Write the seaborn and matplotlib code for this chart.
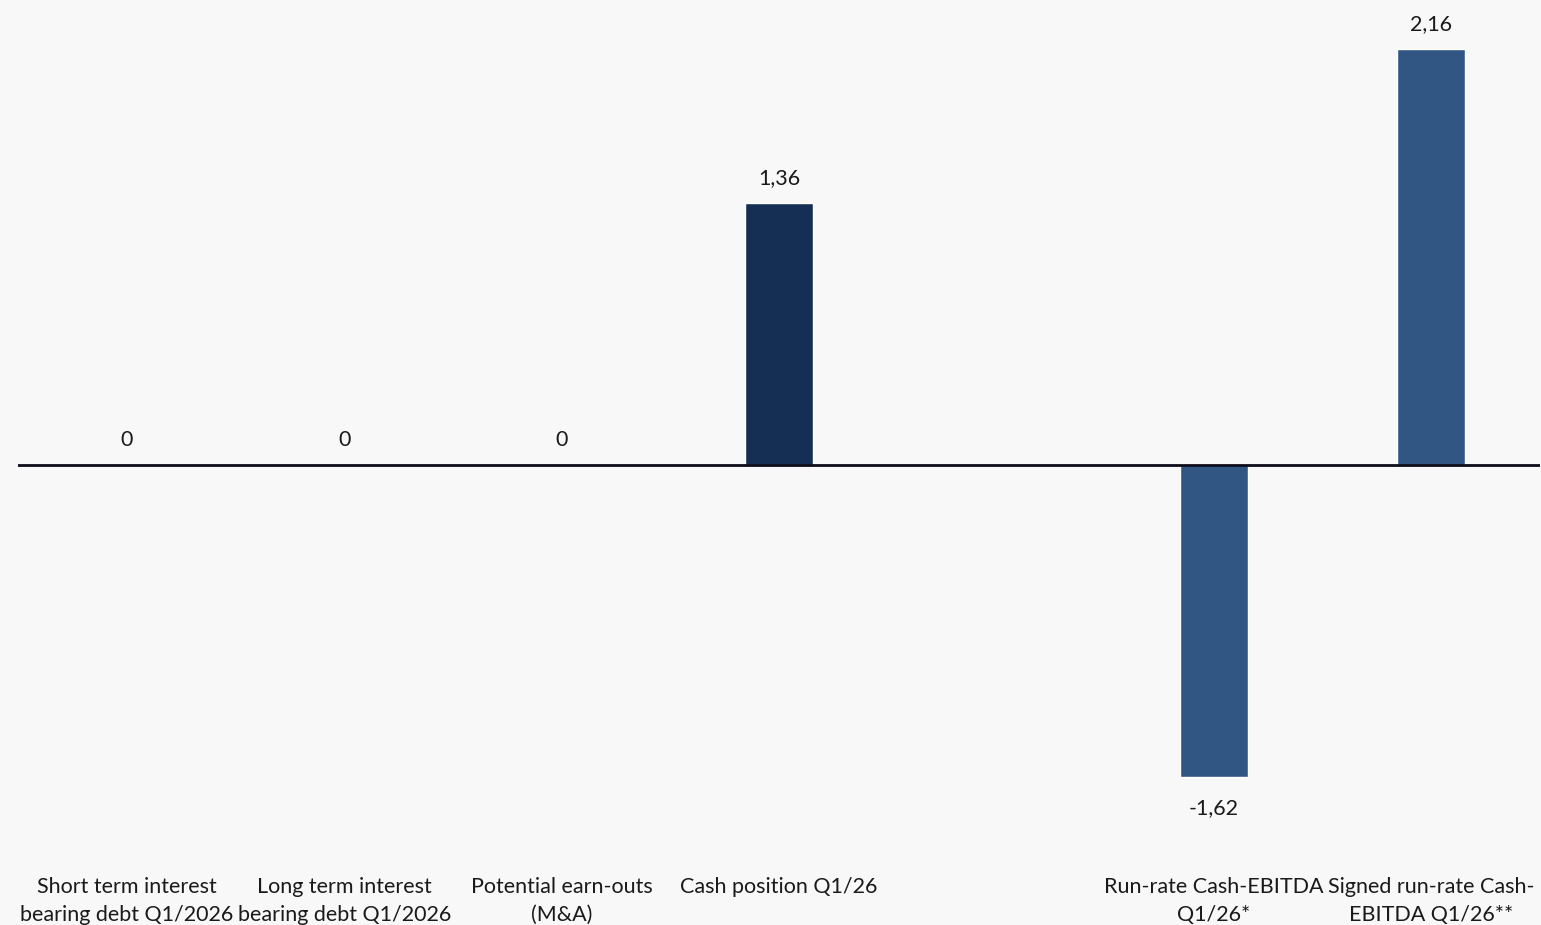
import matplotlib
matplotlib.use("Agg")
import matplotlib.pyplot as plt
import seaborn as sns
import pandas as pd
import numpy as np

categories = [
    "Short term interest\nbearing debt Q1/2026",
    "Long term interest\nbearing debt Q1/2026",
    "Potential earn-outs\n(M&A)",
    "Cash position Q1/26",
    " ",
    "Run-rate Cash-EBITDA\nQ1/26*",
    "Signed run-rate Cash-\nEBITDA Q1/26**",
]
values = [0, 0, 0, 1.36, np.nan, -1.62, 2.16]
bar_colors = ["#325684", "#325684", "#325684", "#142e54", "#325684", "#325684", "#325684"]

df = pd.DataFrame({"category": categories, "value": values})
palette = dict(zip(categories, bar_colors))

sns.set_style("white")
plt.rcParams["font.family"] = ["Lato", "DejaVu Sans"]

bg = "#f8f8f8"
fig = plt.figure(figsize=(15.41, 9.25), dpi=100, facecolor=bg)
ax = fig.add_axes([18 / 1541, 57 / 925, 1522 / 1541, 868 / 925])
ax.set_facecolor(bg)

sns.barplot(data=df, x="category", y="value", hue="category", palette=palette,
            order=categories, width=0.313, legend=False, saturation=1, ax=ax)

ax.set_ylim(-2.092, 2.414)
ax.set_xlim(-0.5, len(categories) - 0.5)
ax.axhline(0, color="#0d0d1a", lw=2, zorder=3)

for i, v in enumerate(values):
    if np.isnan(v):
        continue
    txt = f"{v:.2f}".replace(".", ",") if v != 0 else "0"
    off = 18 if v >= 0 else -22
    ax.annotate(txt, (i, v), xytext=(0, off), textcoords="offset points",
                ha="center", va="center", fontsize=15.5, color="#1a1a1a")

ax.set_xlabel("")
ax.set_ylabel("")
ax.set_yticks([])
ax.set_xticks(range(len(categories)))
ax.set_xticklabels(categories, fontsize=15.5, color="#1a1a1a", linespacing=1.5)
ax.tick_params(axis="x", length=0, pad=6.5)
for s in ax.spines.values():
    s.set_visible(False)

fig.savefig("out.png", dpi=100, facecolor=bg)
